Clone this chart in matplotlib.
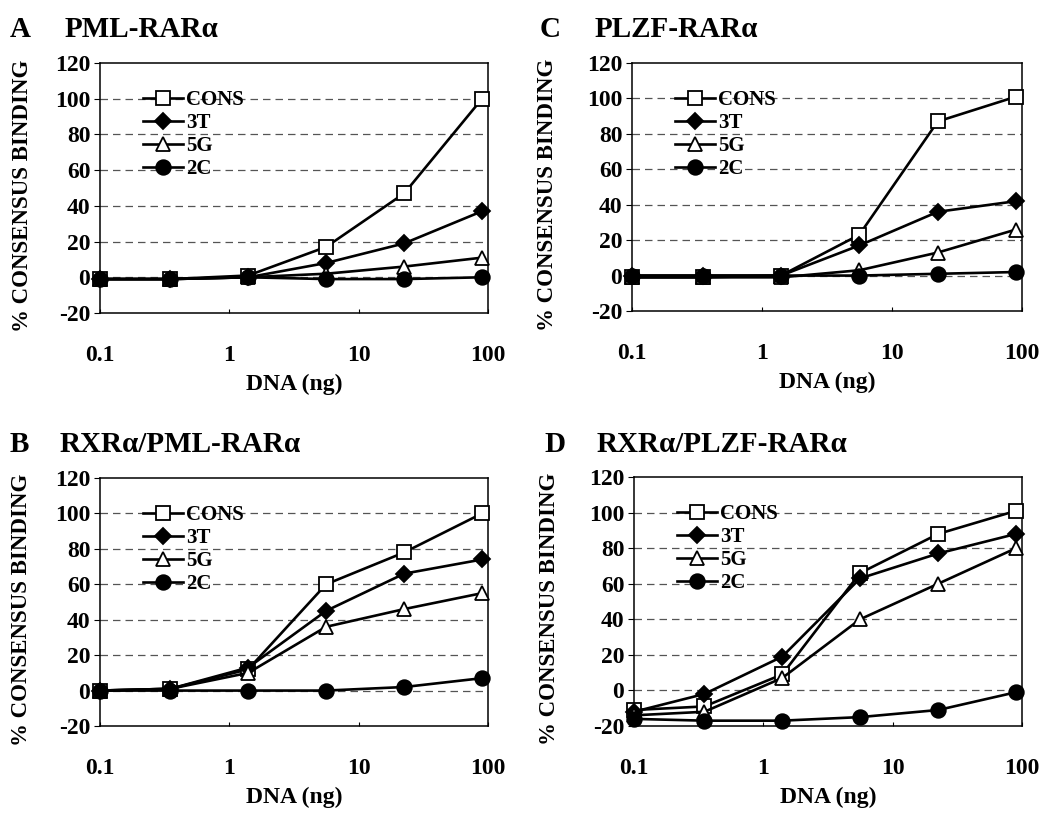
import numpy as np
import matplotlib
matplotlib.use('Agg')
from matplotlib import pyplot as plt
import matplotlib.ticker as ticker

plt.rcParams['font.family'] = ['Liberation Serif', 'DejaVu Serif']
plt.rcParams['font.weight'] = 'bold'
plt.rcParams['axes.unicode_minus'] = False

# DNA amounts (ng), 4-fold dilution series
dna = [0.1, 0.35, 1.4, 5.6, 22.5, 90]
series = ['CONS', '3T', '5G', '2C']

# % consensus binding, per panel
a_cons = [-1, -1, 1, 17, 47, 100]
a_3t = [-1, -1, 0, 8, 19, 37]
a_5g = [-1, -1, 0, 2, 6, 11]
a_2c = [-1, -1, 0, -1, -1, 0]

c_cons = [-1, -1, 0, 23, 87, 101]
c_3t = [0, 0, 0, 17, 36, 42]
c_5g = [-1, -1, -1, 3, 13, 26]
c_2c = [0, 0, 0, 0, 1, 2]

b_cons = [0, 1, 12, 60, 78, 100]
b_3t = [0, 1, 13, 45, 66, 74]
b_5g = [0, 1, 10, 36, 46, 55]
b_2c = [0, 0, 0, 0, 2, 7]

d_cons = [-11, -9, 9, 66, 88, 101]
d_3t = [-12, -2, 19, 63, 77, 88]
d_5g = [-14, -12, 7, 40, 60, 80]
d_2c = [-16, -17, -17, -15, -11, -1]

panels = [
    ('A', 'PML-RARα', [a_cons, a_3t, a_5g, a_2c]),
    ('C', 'PLZF-RARα', [c_cons, c_3t, c_5g, c_2c]),
    ('B', 'RXRα/PML-RARα', [b_cons, b_3t, b_5g, b_2c]),
    ('D', 'RXRα/PLZF-RARα', [d_cons, d_3t, d_5g, d_2c]),
]

# marker styles for CONS, 3T, 5G, 2C
styles = [
    dict(marker='s', mfc='white', ms=10),
    dict(marker='D', mfc='black', ms=8),
    dict(marker='^', mfc='white', ms=10.5),
    dict(marker='o', mfc='black', ms=10.5),
]

W, H = 1050, 826
# axes boxes in pixels: left, top, right, bottom
boxes = [(100, 63, 488, 313), (632, 63, 1022, 311),
         (100, 478, 488, 726), (634, 477, 1022, 726)]
# title positions in pixels: letter x, text x, baseline y
title_pos = [(10, 65, 37), (540, 595, 37), (10, 60, 452), (544, 597, 452)]
ylab_x = [-0.172, -0.19, -0.175, -0.19]

fig = plt.figure(figsize=(W / 100, H / 100), dpi=100)

for i, ((letter, name, vals), (l, t, r, b), (lx, tx, ty)) in enumerate(
        zip(panels, boxes, title_pos)):
    ax = fig.add_axes([l / W, 1 - b / H, (r - l) / W, (b - t) / H])
    ax.set_xscale('log')
    ax.set_xlim(0.1, 100)
    ax.set_ylim(-20, 120)
    ax.yaxis.set_major_locator(ticker.MultipleLocator(20))
    ax.xaxis.set_major_locator(ticker.FixedLocator([0.1, 1, 10, 100]))
    ax.xaxis.set_major_formatter(ticker.FixedFormatter(['0.1', '1', '10', '100']))
    ax.xaxis.set_minor_locator(ticker.NullLocator())
    for gy in range(0, 101, 20):
        ax.axhline(gy, color='#555555', lw=0.9, ls=(0, (6, 4)), zorder=1)
    for k, (lab, y) in enumerate(zip(series, vals)):
        ax.plot(dna, y, color='black', lw=1.9, mec='black', mew=1.3,
                label=lab, clip_on=False, zorder=3 + k, **styles[k])
    for sp in ax.spines.values():
        sp.set_linewidth(1.1)
    ax.tick_params(axis='y', direction='out', length=4, labelsize=17, pad=3)
    ax.tick_params(axis='x', direction='in', length=3, labelsize=17, pad=23)
    for lb in ax.get_xticklabels() + ax.get_yticklabels():
        lb.set_fontweight('bold')
    ax.set_xlabel('DNA (ng)', fontsize=17, fontweight='bold')
    ax.xaxis.set_label_coords(0.5, -0.245)
    ax.set_ylabel('% CONSENSUS BINDING', fontsize=16.5, fontweight='bold')
    ax.yaxis.set_label_coords(ylab_x[i], 0.47)
    leg = ax.legend(loc='upper left', bbox_to_anchor=(0.09, 0.925), frameon=False,
                    fontsize=15, handlelength=1.9, handletextpad=0.15,
                    labelspacing=0.15, borderaxespad=0)
    for txt in leg.get_texts():
        txt.set_fontweight('bold')
    fig.text(lx / W, 1 - ty / H, letter, fontsize=21, fontweight='bold', va='baseline')
    fig.text(tx / W, 1 - ty / H, name, fontsize=21, fontweight='bold', va='baseline')

fig.savefig('out.png', dpi=100)
plt.close()
